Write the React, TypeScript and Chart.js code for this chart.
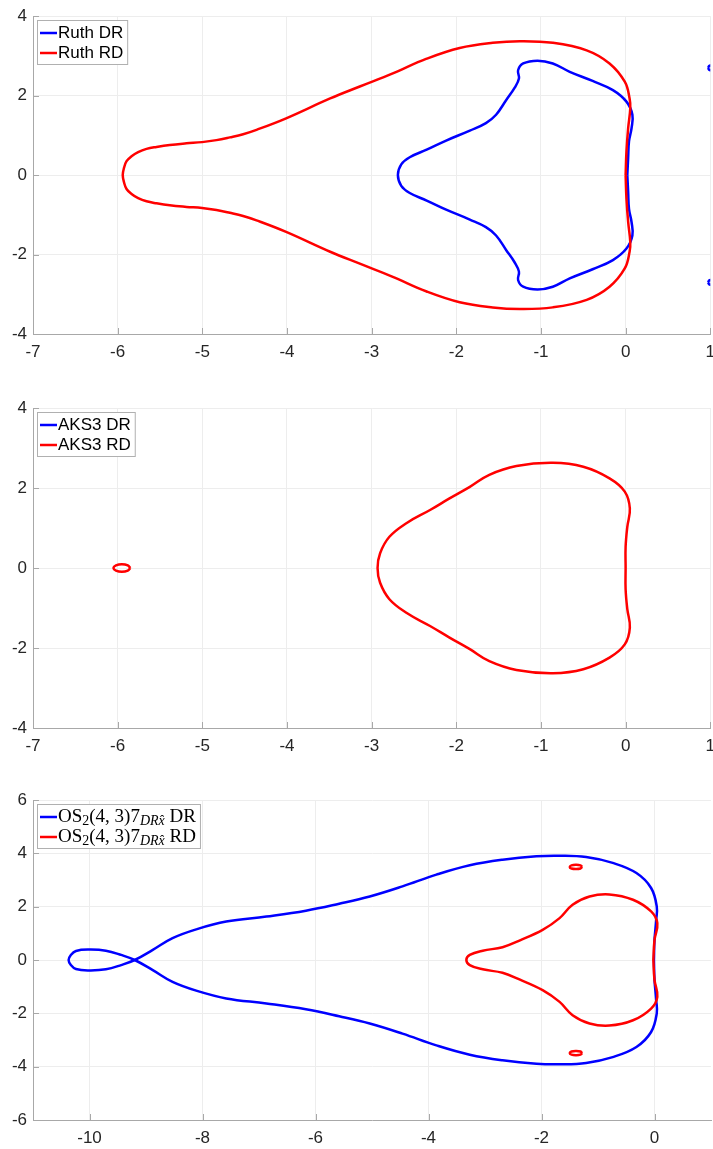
import { useEffect, useRef } from "react";
import { Chart, registerables } from "chart.js";

Chart.register(...registerables);

const BLUE = "#0000ff";
const RED = "#ff0000";
const AXIS_COLOR = "#a8a8a8";
const GRID_COLOR = "#ededed";
const TICK_COLOR = "#262626";
const SANS = "'Liberation Sans', Arial, Helvetica, sans-serif";
const SERIF = "'Liberation Serif', 'Times New Roman', serif";

// ---------- tick values ----------
const xTicksSmall = [-7, -6, -5, -4, -3, -2, -1, 0, 1];
const yTicksSmall = [-4, -2, 0, 2, 4];
const xTicksWide = [-10, -8, -6, -4, -2, 0];
const yTicksWide = [-6, -4, -2, 0, 2, 4, 6];

// ---------- Ruth splitting: stability boundaries ----------
const ruthDrX = [
  0.02, 0.03, 0.04, 0.07, 0.08, 0.01, -0.15, -0.39, -0.66, -0.86, -1.04, -1.21, -1.27, -1.26, -1.31,
  -1.41, -1.53, -1.65, -1.84, -2.12, -2.35, -2.55, -2.65, -2.69,
  -2.65, -2.55, -2.35, -2.12, -1.84, -1.65, -1.53, -1.41, -1.31, -1.26, -1.27, -1.21, -1.04, -0.86,
  -0.66, -0.39, -0.15, 0.01, 0.08, 0.07, 0.04, 0.03, 0.02,
];
const ruthDrY = [
  0, -0.43, -0.85, -1.18, -1.52, -1.85, -2.14, -2.37, -2.6, -2.81, -2.88, -2.81, -2.64, -2.43, -2.2,
  -1.89, -1.52, -1.31, -1.12, -0.87, -0.64, -0.45, -0.27, 0,
  0.27, 0.45, 0.64, 0.87, 1.12, 1.31, 1.52, 1.89, 2.2, 2.43, 2.64, 2.81, 2.88, 2.81,
  2.6, 2.37, 2.14, 1.85, 1.52, 1.18, 0.85, 0.43, 0,
];
// small islands of the DR region at the right edge
const ruthDrIslandTopX = [0.975, 0.985, 1.0, 1.015, 1.025, 1.015, 1.0, 0.985, 0.975];
const ruthDrIslandTopY = [2.7, 2.745, 2.76, 2.745, 2.7, 2.655, 2.64, 2.655, 2.7];
const ruthDrIslandBottomX = [0.975, 0.985, 1.0, 1.015, 1.025, 1.015, 1.0, 0.985, 0.975];
const ruthDrIslandBottomY = [-2.7, -2.655, -2.64, -2.655, -2.7, -2.745, -2.76, -2.745, -2.7];

const ruthRdX = [
  0.0, 0.01, 0.03, 0.055, 0.047, -0.01, -0.19, -0.46, -0.86, -1.25, -1.57, -1.96, -2.35, -2.75, -3.14,
  -3.49, -4.01, -4.36, -4.518, -4.675, -4.833, -5.003, -5.187, -5.384, -5.541, -5.659, -5.758, -5.836,
  -5.895, -5.925, -5.94,
  -5.925, -5.895, -5.836, -5.758, -5.659, -5.541, -5.384, -5.187, -5.003, -4.833, -4.675, -4.518,
  -4.36, -4.01, -3.49, -3.14, -2.75, -2.35, -1.96, -1.57, -1.25, -0.86, -0.46, -0.19, -0.01, 0.047,
  0.055, 0.03, 0.01, 0.0,
];
const ruthRdY = [
  0, -0.6, -1.18, -1.68, -1.93, -2.35, -2.81, -3.14, -3.33, -3.37, -3.33, -3.2, -2.93, -2.56, -2.23,
  -1.93, -1.43, -1.14, -1.03, -0.95, -0.88, -0.83, -0.8, -0.76, -0.71, -0.66, -0.58, -0.475,
  -0.35, -0.18, 0,
  0.18, 0.35, 0.475, 0.58, 0.66, 0.71, 0.76, 0.8, 0.83, 0.88, 0.95, 1.03,
  1.14, 1.43, 1.93, 2.23, 2.56, 2.93, 3.2, 3.33, 3.37, 3.33, 3.14, 2.81, 2.35, 1.93,
  1.68, 1.18, 0.6, 0,
];

// ---------- AKS3 ----------
const aks3DrX: number[] = [];
const aks3DrY: number[] = [];
const aks3RdX = [
  0.0, 0.0, 0.02, 0.05, -0.01, -0.19, -0.5, -0.86, -1.29, -1.61, -1.84, -2.08, -2.31, -2.59, -2.79,
  -2.9, -2.93,
  -2.9, -2.79, -2.59, -2.31, -2.08, -1.84, -1.61, -1.29, -0.86, -0.5, -0.19, -0.01, 0.05, 0.02, 0.0, 0.0,
];
const aks3RdY = [
  0, -0.53, -1.03, -1.49, -1.91, -2.24, -2.53, -2.63, -2.55, -2.33, -2.03, -1.74, -1.45, -1.12, -0.78,
  -0.37, 0,
  0.37, 0.78, 1.12, 1.45, 1.74, 2.03, 2.33, 2.55, 2.63, 2.53, 2.24, 1.91, 1.49, 1.03, 0.53, 0,
];
const aks3RdIslandX = [-5.85, -5.88, -5.95, -6.02, -6.05, -6.02, -5.95, -5.88, -5.85];
const aks3RdIslandY = [0, 0.065, 0.094, 0.065, 0, -0.065, -0.094, -0.065, 0];

// ---------- OS2(4,3)7 ----------
const osDrX = [
  -0.01, 0.0, 0.03, 0.04, -0.06, -0.32, -0.74, -1.21, -1.68, -2.09, -2.69, -3.27, -3.86, -4.46, -5.04,
  -5.58, -6.17, -6.87, -7.58, -8.11, -8.53, -8.88, -9.2,
  -9.44, -9.71, -10.0, -10.24, -10.33, -10.37, -10.33, -10.24, -10.0, -9.71, -9.44,
  -9.2, -8.88, -8.53, -8.11, -7.58, -6.87, -6.17, -5.58, -5.04, -4.46, -3.86, -3.27, -2.69, -2.09,
  -1.68, -1.21, -0.74, -0.32, -0.06, 0.04, 0.03, 0.0, -0.01,
];
const osDrY = [
  0, 0.75, 1.5, 2.0, 2.7, 3.26, 3.64, 3.86, 3.91, 3.89, 3.76, 3.55, 3.2, 2.76, 2.38,
  2.11, 1.85, 1.63, 1.44, 1.15, 0.82, 0.38, 0,
  -0.19, -0.35, -0.39, -0.34, -0.19, 0, 0.19, 0.34, 0.39, 0.35, 0.19,
  0, -0.38, -0.82, -1.15, -1.44, -1.63, -1.85, -2.11, -2.38, -2.76, -3.2, -3.55, -3.76, -3.89,
  -3.91, -3.86, -3.64, -3.26, -2.7, -2.0, -1.5, -0.75, 0,
];
const osRdX = [
  -0.02, 0.0, 0.05, -0.06, -0.38, -0.8, -1.15, -1.45, -1.68, -1.98, -2.39, -2.69, -3.04, -3.27, -3.33,
  -3.27, -3.04, -2.69, -2.39, -1.98, -1.68, -1.45, -1.15, -0.8, -0.38, -0.06, 0.05, 0.0, -0.02,
];
const osRdY = [
  0, -0.75, -1.38, -1.82, -2.26, -2.46, -2.38, -2.07, -1.57, -1.13, -0.73, -0.48, -0.35, -0.19, 0,
  0.19, 0.35, 0.48, 0.73, 1.13, 1.57, 2.07, 2.38, 2.46, 2.26, 1.82, 1.38, 0.75, 0,
];
const osRdIslandTopX = [-1.28, -1.31, -1.39, -1.47, -1.5, -1.47, -1.39, -1.31, -1.28];
const osRdIslandTopY = [3.49, 3.55, 3.57, 3.55, 3.49, 3.43, 3.41, 3.43, 3.49];
const osRdIslandBottomX = [-1.28, -1.31, -1.39, -1.47, -1.5, -1.47, -1.39, -1.31, -1.28];
const osRdIslandBottomY = [-3.49, -3.43, -3.41, -3.43, -3.49, -3.55, -3.57, -3.55, -3.49];

// ---------- legend texts ----------
type Seg = { text: string; size: number; serif?: boolean; italic?: boolean; dy?: number };
type LegendEntry = { color: string; segs: Seg[] };

const ruthLegend: LegendEntry[] = [
  { color: BLUE, segs: [{ text: "Ruth DR", size: 17 }] },
  { color: RED, segs: [{ text: "Ruth RD", size: 17 }] },
];
const aks3Legend: LegendEntry[] = [
  { color: BLUE, segs: [{ text: "AKS3 DR", size: 17 }] },
  { color: RED, segs: [{ text: "AKS3 RD", size: 17 }] },
];
const osSegs = (suffix: string): Seg[] => [
  { text: "OS", size: 19, serif: true },
  { text: "2", size: 14, serif: true, dy: 4 },
  { text: "(4, 3)7", size: 19, serif: true },
  { text: "DRx\u0302", size: 14, serif: true, italic: true, dy: 4 },
  { text: " " + suffix, size: 19, serif: true },
];
const osLegend: LegendEntry[] = [
  { color: BLUE, segs: osSegs("DR") },
  { color: RED, segs: osSegs("RD") },
];

type Curve = { x: number[]; y: number[]; color: string; label: string };

type Panel = {
  top: number;
  height: number;
  canvasW: number;
  padTop: number;
  axisH: number;
  xMin: number;
  xMax: number;
  yMin: number;
  yMax: number;
  xTicks: number[];
  yTicks: number[];
  curves: Curve[];
  legend: LegendEntry[];
};

// canvases are slightly wider than the page so each plot box reaches the right edge
const panels: Panel[] = [
  {
    top: 0, height: 380, canvasW: 723, padTop: 14, axisH: 46,
    xMin: -7, xMax: 1, yMin: -4, yMax: 4, xTicks: xTicksSmall, yTicks: yTicksSmall,
    curves: [
      { x: ruthDrX, y: ruthDrY, color: BLUE, label: "Ruth DR" },
      { x: ruthDrIslandTopX, y: ruthDrIslandTopY, color: BLUE, label: "" },
      { x: ruthDrIslandBottomX, y: ruthDrIslandBottomY, color: BLUE, label: "" },
      { x: ruthRdX, y: ruthRdY, color: RED, label: "Ruth RD" },
    ],
    legend: ruthLegend,
  },
  {
    top: 380, height: 386, canvasW: 723, padTop: 28, axisH: 38,
    xMin: -7, xMax: 1, yMin: -4, yMax: 4, xTicks: xTicksSmall, yTicks: yTicksSmall,
    curves: [
      { x: aks3DrX, y: aks3DrY, color: BLUE, label: "AKS3 DR" },
      { x: aks3RdX, y: aks3RdY, color: RED, label: "AKS3 RD" },
      { x: aks3RdIslandX, y: aks3RdIslandY, color: RED, label: "" },
    ],
    legend: aks3Legend,
  },
  {
    top: 766, height: 383, canvasW: 719, padTop: 34, axisH: 29,
    xMin: -11, xMax: 1, yMin: -6, yMax: 6, xTicks: xTicksWide, yTicks: yTicksWide,
    curves: [
      { x: osDrX, y: osDrY, color: BLUE, label: "DR" },
      { x: osRdX, y: osRdY, color: RED, label: "RD" },
      { x: osRdIslandTopX, y: osRdIslandTopY, color: RED, label: "" },
      { x: osRdIslandBottomX, y: osRdIslandBottomY, color: RED, label: "" },
    ],
    legend: osLegend,
  },
];

// small tick marks pointing into the plot box
const inwardTicks = {
  id: "inwardTicks",
  beforeDatasetsDraw(chart: any) {
    const { ctx, chartArea: a, scales } = chart;
    const xs = scales.x;
    const ys = scales.y;
    ctx.save();
    ctx.strokeStyle = AXIS_COLOR;
    ctx.lineWidth = 1;
    ctx.beginPath();
    xs.ticks.forEach((t: any) => {
      const px = Math.round(xs.getPixelForValue(t.value)) + 0.5;
      ctx.moveTo(px, a.bottom);
      ctx.lineTo(px, a.bottom - 6);
    });
    ys.ticks.forEach((t: any) => {
      const py = Math.round(ys.getPixelForValue(t.value)) + 0.5;
      ctx.moveTo(a.left, py);
      ctx.lineTo(a.left + 6, py);
    });
    ctx.stroke();
    ctx.restore();
  },
};

function fontOf(s: Seg) {
  return `${s.italic ? "italic " : ""}${s.size}px ${s.serif ? SERIF : SANS}`;
}

function makeLegendPlugin(entries: LegendEntry[]) {
  return {
    id: "boxLegend",
    afterDraw(chart: any) {
      const { ctx, chartArea } = chart;
      const x0 = Math.round(chartArea.left) + 4;
      const y0 = Math.round(chartArea.top) + 4;
      const gap = 20;
      const first = 13;
      ctx.save();
      let maxW = 0;
      entries.forEach((e) => {
        let w = 0;
        e.segs.forEach((s) => {
          ctx.font = fontOf(s);
          w += ctx.measureText(s.text).width;
        });
        maxW = Math.max(maxW, w);
      });
      const w = 21 + maxW + 4;
      const h = first + gap * (entries.length - 1) + 11;
      ctx.fillStyle = "#ffffff";
      ctx.fillRect(x0, y0, w, h);
      ctx.strokeStyle = "#b0b0b0";
      ctx.lineWidth = 1;
      ctx.strokeRect(x0 + 0.5, y0 + 0.5, w, h);
      entries.forEach((e, i) => {
        const cy = y0 + first + i * gap;
        ctx.strokeStyle = e.color;
        ctx.lineWidth = 2.5;
        ctx.beginPath();
        ctx.moveTo(x0 + 3, cy);
        ctx.lineTo(x0 + 20, cy);
        ctx.stroke();
        let tx = x0 + 21;
        ctx.fillStyle = "#000000";
        ctx.textBaseline = "middle";
        ctx.textAlign = "left";
        e.segs.forEach((s) => {
          ctx.font = fontOf(s);
          ctx.fillText(s.text, tx, cy + (s.dy || 0));
          tx += ctx.measureText(s.text).width;
        });
      });
      ctx.restore();
    },
  };
}

function PanelChart({ panel }: { panel: Panel }) {
  const ref = useRef<HTMLCanvasElement | null>(null);

  useEffect(() => {
    if (!ref.current) return;
    const p = panel;
    const datasets = p.curves.map((c) => ({
      label: c.label,
      data: c.x.map((v, i) => ({ x: v, y: c.y[i] })),
      borderColor: c.color,
      backgroundColor: c.color,
      borderWidth: 2.5,
      pointRadius: 0,
      pointHoverRadius: 0,
      showLine: true,
      fill: false,
      tension: 0.4,
      order: c.color === RED ? 0 : 1,
    }));
    const tickFont = { family: SANS, size: 17 };
    const chart = new Chart(ref.current, {
      type: "scatter",
      data: { datasets },
      plugins: [inwardTicks, makeLegendPlugin(p.legend)],
      options: {
        animation: false,
        responsive: false,
        events: [],
        layout: { padding: { top: p.padTop, right: 8, bottom: 0, left: 0 } },
        plugins: { legend: { display: false }, tooltip: { enabled: false } },
        scales: {
          x: {
            type: "linear",
            min: p.xMin,
            max: p.xMax,
            afterBuildTicks: (s: any) => {
              s.ticks = p.xTicks.map((v) => ({ value: v }));
            },
            afterFit: (s: any) => {
              s.height = p.axisH;
            },
            ticks: {
              font: tickFont,
              color: TICK_COLOR,
              padding: 8,
              maxRotation: 0,
              autoSkip: false,
            },
            grid: { color: GRID_COLOR, drawTicks: false, lineWidth: 1 },
            border: { display: true, color: AXIS_COLOR, width: 1 },
          },
          y: {
            type: "linear",
            min: p.yMin,
            max: p.yMax,
            afterBuildTicks: (s: any) => {
              s.ticks = p.yTicks.map((v) => ({ value: v }));
            },
            afterFit: (s: any) => {
              s.width = 33;
            },
            ticks: {
              font: tickFont,
              color: TICK_COLOR,
              padding: 6,
              autoSkip: false,
            },
            grid: { color: GRID_COLOR, drawTicks: false, lineWidth: 1 },
            border: { display: true, color: AXIS_COLOR, width: 1 },
          },
        },
      } as any,
    });
    return () => chart.destroy();
  }, [panel]);

  return (
    <div style={{ position: "absolute", left: 0, top: panel.top, width: panel.canvasW, height: panel.height }}>
      <canvas ref={ref} width={panel.canvasW} height={panel.height} style={{ display: "block" }} />
    </div>
  );
}

export default function App() {
  return (
    <div
      style={{
        position: "absolute",
        left: 0,
        top: 0,
        width: 713,
        height: 1149,
        overflow: "hidden",
        background: "#ffffff",
      }}
    >
      {panels.map((p, i) => (
        <PanelChart key={i} panel={p} />
      ))}
    </div>
  );
}
